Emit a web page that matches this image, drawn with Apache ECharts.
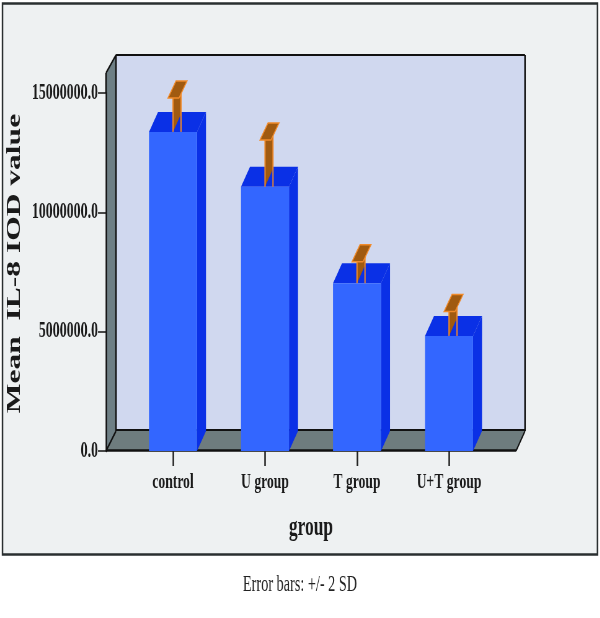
<!DOCTYPE html>
<html lang="en">

<head>
    <meta charset="utf-8">
    <script src="https://cdn.jsdelivr.net/npm/echarts@6/dist/echarts.min.js"></script>
    <style>
        html, body {
            margin: 0;
            background: #fff;
            overflow: hidden;
        }

        /* the picture is squeezed sideways, everything including the type */
        #chart {
            width: 968px;
            height: 618px;
            transform: scaleX(0.62);
            transform-origin: 0 0;
        }
    </style>
</head>

<body>
    <div id="chart"></div>
    <script>
        const categories = ['control', 'U group', 'T group', 'U+T group']
        const meanValues = [13370000, 11070000, 7030000, 4820000]
        const upperValues = [14790000, 13030000, 7930000, 5840000]
        const yTicks = { min: 0, max: 15000000, interval: 5000000 }

        const SQ = 0.62
        const SERIF = '"Liberation Serif", serif'
        // screen px to chart px, x direction only
        const X = px => px / SQ

        // bar shape, screen px
        const BAR_W = X(48), DEPTH_X = X(9), DEPTH_Y = 20
        const CAP_W = X(11), CAP_DX = X(8), CAP_DY = 17

        function bar3d(params, api) {
            let i = api.value(0)
            let top = api.coord([i, api.value(1)])
            let base = api.coord([i, 0])
            let high = api.coord([i, api.value(2)])
            let l = top[0] - BAR_W / 2, r = l + BAR_W
            let t = top[1], b = base[1]
            let sx = top[0] // stem left edge
            let capY = high[1]
            let capL = sx - X(5)
            let orange = { stroke: '#f08a2a', lineWidth: 2 }
            return {
                type: 'group',
                children: [
                    { type: 'polygon', shape: { points: [[r, t], [r + DEPTH_X, t - DEPTH_Y], [r + DEPTH_X, b - DEPTH_Y], [r, b]] }, style: { fill: '#0a30e6' } },
                    { type: 'polygon', shape: { points: [[l, t], [l + DEPTH_X, t - DEPTH_Y], [r + DEPTH_X, t - DEPTH_Y], [r, t]] }, style: { fill: '#0a30e6' } },
                    { type: 'rect', shape: { x: l, y: t, width: BAR_W, height: b - t }, style: { fill: '#3366ff' } },
                    // error bar, upper half only shows
                    { type: 'polygon', shape: { points: [[sx, t], [sx + CAP_DX, t - 18], [sx + CAP_DX, capY - CAP_DY], [sx, capY]] }, style: { fill: '#a05a10' } },
                    { type: 'line', shape: { x1: sx, y1: t, x2: sx, y2: capY }, style: orange },
                    { type: 'line', shape: { x1: sx + CAP_DX, y1: t, x2: sx + CAP_DX, y2: capY - CAP_DY }, style: orange },
                    {
                        type: 'polygon',
                        shape: { points: [[capL, capY], [capL + CAP_DX, capY - CAP_DY], [capL + CAP_DX + CAP_W, capY - CAP_DY], [capL + CAP_W, capY]] },
                        style: { fill: '#a05a10', stroke: '#f08a2a', lineWidth: 1.5 }
                    }
                ]
            }
        }

        function poly(points, fill) {
            return { type: 'polygon', z: -10, shape: { points: points.map(p => [X(p[0]), p[1]]) }, style: { fill: fill } }
        }

        function seg(x1, y1, x2, y2, w) {
            return { type: 'line', z: -5, shape: { x1: X(x1), y1: y1, x2: X(x2), y2: y2 }, style: { stroke: '#111', lineWidth: w } }
        }

        let chart = echarts.init(document.querySelector('#chart'))
        chart.setOption({
            backgroundColor: '#fff',
            animation: false,
            grid: { left: X(127), width: X(368), top: 93, height: 358, outerBoundsMode: 'none' },
            graphic: [
                { type: 'rect', z: -20, shape: { x: X(2.5), y: 3.5, width: X(595), height: 551 }, style: { fill: '#eef1f2', stroke: '#2a2f30', lineWidth: 2.5 } },
                poly([[116, 55], [525, 55], [525, 431], [116, 431]], '#d0d8ef'),
                poly([[106, 451], [116, 431], [116, 55], [106, 73]], '#6e7f85'),
                poly([[106, 451], [116, 431], [525, 431], [516, 451]], '#6e7c7e'),
                seg(106, 93, 106, 73, 2.5),
                seg(106, 73, 116, 55, 2),
                seg(116, 55, 116, 431, 2.5),
                seg(116, 55, 525, 55, 2),
                seg(525, 55, 525, 431, 2.5),
                seg(116, 430, 525, 430, 2),
                seg(525, 431, 516, 451, 2),
                seg(106, 451, 116, 431, 2),
                seg(106, 450.5, 516, 450.5, 2.5),
                { type: 'text', x: X(300), y: 585, style: { text: 'Error bars: +/- 2 SD', font: '23px ' + SERIF, fill: '#222', align: 'center', verticalAlign: 'middle' } }
            ],
            xAxis: {
                type: 'category',
                data: categories,
                name: 'group',
                nameLocation: 'middle',
                nameGap: 63,
                nameTextStyle: { fontFamily: SERIF, fontWeight: 'bold', fontSize: 28, color: '#1a1a1a' },
                axisLine: { show: false },
                axisTick: { show: true, alignWithLabel: true, length: 15, lineStyle: { color: '#222', width: 2.5 } },
                axisLabel: { interval: 0, margin: 20, fontFamily: SERIF, fontWeight: 'bold', fontSize: 22, color: '#1a1a1a' }
            },
            yAxis: {
                type: 'value',
                min: yTicks.min,
                max: yTicks.max,
                interval: yTicks.interval,
                offset: X(21),
                name: 'Mean  IL-8 IOD value',
                nameLocation: 'middle',
                nameGap: 108,
                nameTextStyle: { fontFamily: SERIF, fontWeight: 'bold', fontSize: 31.5, color: '#1a1a1a', padding: [0, 0, 0, 17] },
                splitLine: { show: false },
                axisLine: { show: true, lineStyle: { color: '#111', width: 2.5 } },
                axisTick: { show: true, length: X(8), lineStyle: { color: '#111', width: 1.5 } },
                axisLabel: {
                    margin: X(8),
                    padding: [4, 0, 0, 0],
                    fontFamily: SERIF,
                    fontWeight: 'bold',
                    fontSize: 22.5,
                    color: '#1a1a1a',
                    formatter: v => v.toFixed(1)
                }
            },
            series: [{
                type: 'custom',
                clip: false,
                z: 3,
                renderItem: bar3d,
                encode: { x: 0, y: 1 },
                data: categories.map((c, i) => [i, meanValues[i], upperValues[i]])
            }]
        })
    </script>

</body>

</html>
